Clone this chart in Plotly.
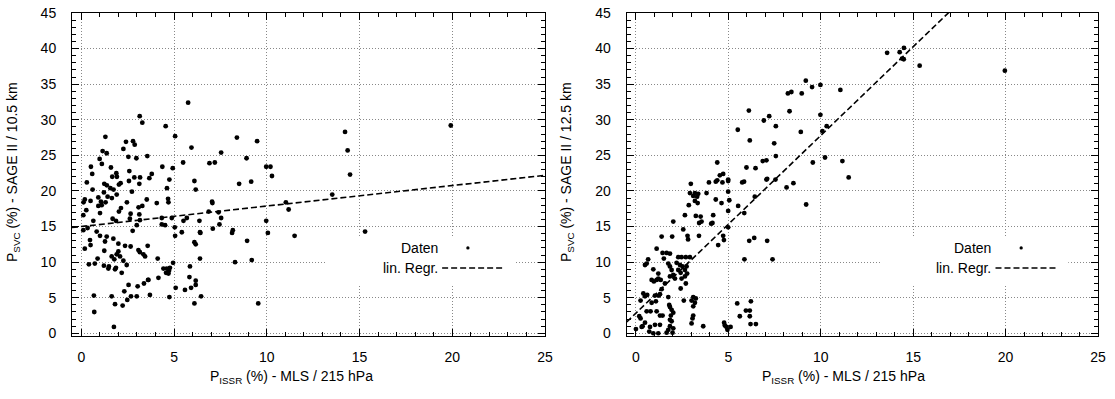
import plotly.graph_objects as go

# ---------------- data ----------------
left_x = [5.76,3.15,3.29,4.55,5.06,1.30,2.41,2.79,2.88,2.27,5.94,1.15,1.37,2.54,2.97,3.56,0.99,1.11,5.49,0.52,
          1.60,4.37,4.93,0.59,1.89,2.59,3.80,1.67,1.92,2.86,3.17,3.67,4.75,0.30,2.57,3.13,1.24,1.38,1.57,2.03,
          2.12,1.74,0.61,1.22,1.91,2.73,4.62,6.10,6.17,0.92,1.42,1.65,0.19,0.50,1.06,1.31,1.10,0.92,0.12,2.46,
          3.53,4.07,4.68,4.70,3.29,3.09,0.27,2.14,2.03,1.01,0.11,2.66,3.13,4.34,5.69,
          0.65,1.69,1.87,2.62,3.16,4.34,4.88,0.11,0.34,2.99,2.77,4.52,5.06,5.42,0.83,1.01,0.47,0.50,0.19,1.37,
          1.28,1.73,2.00,2.36,2.66,1.24,3.08,3.16,3.58,3.35,3.44,4.12,2.00,1.91,2.09,1.64,1.78,0.88,2.27,2.45,
          0.41,0.73,1.22,1.46,1.49,1.87,1.82,2.18,4.43,4.61,4.78,4.57,4.70,4.73,4.16,3.62,3.38,3.04,2.32,3.70,
          2.99,2.68,2.48,1.64,0.68,1.82,2.23,0.70,1.76,4.75,5.09,5.59,5.92,5.83,5.86,6.17,6.17,6.10,6.46,6.40,
          6.17,6.10,6.40,4.95,5.04,5.51,2.55,3.60,
          8.39,9.48,7.54,8.91,6.91,7.20,9.97,10.20,10.28,8.51,9.16,7.05,7.07,13.53,6.87,7.40,11.03,11.18,7.54,
          6.37,7.45,7.09,6.42,8.17,8.13,9.97,10.06,11.50,8.94,8.29,9.19,9.54,14.22,14.36,14.49,15.30,19.92]
left_y = [32.4,30.5,29.6,29.1,27.7,27.6,26.9,27.0,26.5,25.9,26.1,25.6,25.3,24.8,24.6,24.9,24.5,23.8,24.0,23.4,
          23.3,23.4,23.2,22.4,22.5,22.8,22.4,22.0,22.0,21.9,21.9,21.8,21.6,21.2,21.4,21.0,21.0,20.8,20.4,20.9,
          21.1,20.2,20.2,19.8,19.5,19.9,20.4,21.4,20.2,19.1,19.2,19.0,18.8,18.6,18.5,18.4,18.0,17.9,18.4,18.4,
          18.8,18.3,18.9,18.4,17.9,17.7,17.3,17.6,17.1,16.9,16.6,16.8,16.7,16.2,16.2,
          15.8,16.1,15.8,16.1,15.9,15.3,16.2,14.5,14.8,15.2,14.4,15.2,13.7,14.2,14.3,13.7,13.1,12.4,11.9,13.6,
          12.9,13.3,12.6,12.3,12.2,11.6,11.7,11.4,12.3,11.1,10.8,10.5,11.5,11.1,10.8,10.8,10.4,10.5,10.2,9.6,
          9.7,9.8,9.5,9.1,9.4,9.2,9.0,8.5,9.1,9.1,9.2,8.5,8.4,8.8,7.8,7.5,7.0,6.6,5.9,5.4,
          5.2,5.2,4.7,5.2,5.3,4.1,3.9,3.0,0.9,5.1,6.4,6.1,6.4,7.9,9.4,7.4,6.8,4.2,5.2,10.5,
          12.5,12.8,14.2,9.9,14.9,15.8,6.8,7.5,
          27.5,27.0,25.4,24.6,23.9,24.0,23.4,23.4,22.1,21.0,21.3,18.5,18.3,19.5,17.1,17.0,18.4,17.4,16.2,
          15.8,15.3,14.7,14.1,14.5,14.1,15.8,14.1,13.7,13.0,10.0,10.3,4.2,28.3,25.7,22.3,14.3,29.2]

right_x = [9.19,9.53,9.98,11.06,8.22,8.41,8.97,6.11,8.31,6.92,7.21,9.98,7.57,5.51,10.32,10.09,8.92,6.16,7.48,6.86,
           7.06,7.57,10.23,4.40,5.98,6.47,9.57,11.17,11.51,4.54,4.72,4.99,7.06,7.55,
           13.59,14.27,14.50,14.40,14.49,15.35,19.96,
           8.15,8.52,9.21,7.10,5.75,5.85,4.40,4.68,4.99,4.99,5.05,3.95,4.32,2.97,3.37,3.31,3.19,3.34,2.92,2.86,
           3.10,3.19,3.82,4.32,4.63,4.99,5.53,5.86,6.43,2.65,3.24,3.50,4.18,2.02,2.56,3.42,3.55,4.07,4.14,4.99,
           2.79,2.82,3.41,1.39,1.96,4.45,4.72,4.76,6.13,6.40,7.10,1.12,1.44,1.66,1.51,1.84,2.29,2.47,2.70,2.92,
           0.66,0.58,0.49,0.94,1.21,1.12,0.85,0.97,1.21,1.34,1.75,1.84,1.93,2.02,2.11,1.84,2.20,2.38,2.29,2.42,
           2.52,2.65,2.74,2.47,2.65,2.77,2.70,2.42,1.57,1.39,1.30,0.40,0.61,0.49,0.25,0.85,1.08,1.03,1.24,1.75,
           0.79,0.58,1.12,0.18,0.25,0.31,0.00,0.49,0.36,0.72,0.94,1.21,0.76,1.03,1.30,1.30,1.44,1.80,1.84,1.93,
           2.02,1.89,1.84,1.93,1.84,2.02,1.75,1.98,1.66,2.59,3.01,3.10,3.24,3.19,3.10,3.10,3.06,3.01,3.64,4.77,
           4.81,4.90,5.12,4.95,5.48,5.62,5.95,6.16,6.22,6.16,6.20,6.49,5.87,7.39]
right_y = [35.5,34.6,34.9,34.2,33.7,33.9,33.7,31.3,31.2,29.9,30.5,30.7,29.1,28.6,29.1,28.4,28.3,27.1,26.7,24.2,
           24.3,24.9,24.7,24.0,23.3,23.2,24.0,24.2,21.9,22.2,22.4,21.6,21.6,21.6,
           39.4,39.5,40.1,38.6,38.5,37.6,36.9,
           20.5,21.1,18.1,21.7,21.2,21.3,21.5,21.2,21.4,19.9,18.7,21.2,21.3,21.0,19.6,19.2,18.6,18.3,19.7,18.0,
           19.3,19.7,19.7,18.8,18.3,17.2,17.9,16.9,19.2,16.6,16.5,16.4,16.6,15.7,14.6,15.5,15.7,15.4,15.5,14.9,
           13.7,13.2,13.7,13.6,13.6,12.4,13.7,13.1,13.0,13.4,13.0,11.9,11.3,11.3,10.5,11.2,10.7,10.7,10.7,10.7,
           10.4,9.8,9.6,9.0,8.4,7.5,7.5,7.3,7.7,7.5,9.8,9.4,8.9,8.2,7.7,8.0,9.9,9.6,8.9,8.5,
           9.4,8.9,9.4,7.7,8.0,8.4,7.0,6.3,7.0,6.2,5.5,5.6,5.4,5.2,4.6,4.3,4.5,5.3,5.3,5.1,
           3.1,3.1,3.1,2.4,2.1,0.9,0.6,1.5,1.0,0.25,0.0,0.0,0.9,1.2,1.2,2.5,2.5,4.0,3.7,3.3,
           2.9,2.5,1.9,1.7,1.0,0.7,0.5,0.1,0.1,4.6,4.6,5.1,4.9,4.3,3.8,2.5,2.1,1.4,1.0,1.5,
           1.1,0.9,0.9,0.5,4.2,2.4,3.2,3.2,4.5,2.4,1.3,1.3,10.4,10.4]

# regression lines (end points)
left_reg_x = [-0.5, 25.0]
left_reg_y = [14.86, 22.2]
right_reg_x = [-0.5, 17.3]
right_reg_y = [1.6, 46.0]

x_range = [-0.5, 25]
y_range = [-0.33, 45]
major_step = 5
minor_step = 1
x_title = "P<sub>ISSR</sub> (%) - MLS / 215 hPa"
y_titles = ["P<sub>SVC</sub> (%) - SAGE II / 10.5 km", "P<sub>SVC</sub> (%) - SAGE II / 12.5 km"]
legend_labels = ["Daten", "lin. Regr."]

# ---------------- figure ----------------
W, H = 1115, 399
FONT = "Liberation Sans, Arial, Helvetica, sans-serif"
fig = go.Figure()

panels = [(left_x, left_y, left_reg_x, left_reg_y, "x", "y"),
          (right_x, right_y, right_reg_x, right_reg_y, "x2", "y2")]
for xs, ys, rx, ry, xa, ya in panels:
    fig.add_trace(go.Scatter(x=xs, y=ys, mode="markers", xaxis=xa, yaxis=ya,
                             marker=dict(color="black", size=4.8), showlegend=False))
    fig.add_trace(go.Scatter(x=rx, y=ry, mode="lines", xaxis=xa, yaxis=ya,
                             line=dict(color="black", width=1.6, dash="6px,3px"), showlegend=False))

dom_y = [1 - 335.7 / H, 1 - 13 / H]
dom_x = [[72 / W, 545 / W], [626.7 / W, 1098 / W]]

common = dict(showgrid=True, gridcolor="#888", griddash="1px,2px", gridwidth=1,
              zeroline=False, showline=True, linecolor="black", linewidth=1, mirror="allticks",
              ticks="inside", ticklen=7, tickwidth=1.2, tickcolor="black", tickmode="linear", tick0=0,
              dtick=major_step,
              minor=dict(dtick=minor_step, tick0=0, ticks="inside", ticklen=4, tickwidth=1.2,
                         tickcolor="black", showgrid=False),
              tickfont=dict(family=FONT, size=14, color="black"), automargin=False)

layout = dict(width=W, height=H, margin=dict(l=0, r=0, t=0, b=0),
              paper_bgcolor="white", plot_bgcolor="white",
              font=dict(family=FONT, size=14, color="black"))
for i in range(2):
    xn, yn = ("xaxis", "yaxis") if i == 0 else ("xaxis2", "yaxis2")
    xid, yid = ("x", "y") if i == 0 else ("x2", "y2")
    layout[xn] = dict(domain=dom_x[i], anchor=yid, range=x_range, ticklabelstandoff=8, **common)
    layout[yn] = dict(domain=dom_y, anchor=xid, range=y_range, ticklabelstandoff=12, **common)

fig.update_layout(**layout)

annotations = []
shapes = []
ytitle_x = [13 / W, 567 / W]
xtitle_x = [291 / W, 843.5 / W]
for i, (xa, ya) in enumerate([("x", "y"), ("x2", "y2")]):
    annotations.append(dict(text=x_title, x=xtitle_x[i], y=1 - 377 / H, xref="paper", yref="paper",
                            showarrow=False, xanchor="center", yanchor="middle", font=dict(size=14)))
    annotations.append(dict(text=y_titles[i], x=ytitle_x[i], y=1 - 172 / H, xref="paper", yref="paper",
                            showarrow=False, textangle=-90, xanchor="center", yanchor="middle",
                            font=dict(size=14)))
    xd, yd = xa + " domain", ya + " domain"
    # legend background (covers the grid, like the reference)
    shapes.append(dict(type="rect", xref=xd, yref=yd, x0=0.539, x1=0.937, y0=0.16, y1=0.303,
                       fillcolor="white", line=dict(width=0), layer="above"))
    # legend keys
    shapes.append(dict(type="circle", xref=xd, yref=yd, x0=0.837 - 0.0035, x1=0.837 + 0.0035,
                       y0=0.272 - 0.005, y1=0.272 + 0.005, fillcolor="black", line=dict(width=0),
                       layer="above"))
    shapes.append(dict(type="line", xref=xd, yref=yd, x0=0.7825, x1=0.913, y0=0.210, y1=0.210,
                       line=dict(color="black", width=1.6, dash="6px,3px"), layer="above"))
    annotations.append(dict(text=legend_labels[0], x=0.778, y=0.272, xref=xd, yref=yd, showarrow=False,
                            xanchor="right", yanchor="middle", font=dict(size=14)))
    annotations.append(dict(text=legend_labels[1], x=0.778, y=0.210, xref=xd, yref=yd, showarrow=False,
                            xanchor="right", yanchor="middle", font=dict(size=14)))

fig.update_layout(annotations=annotations, shapes=shapes)
fig.write_html("out.html")
